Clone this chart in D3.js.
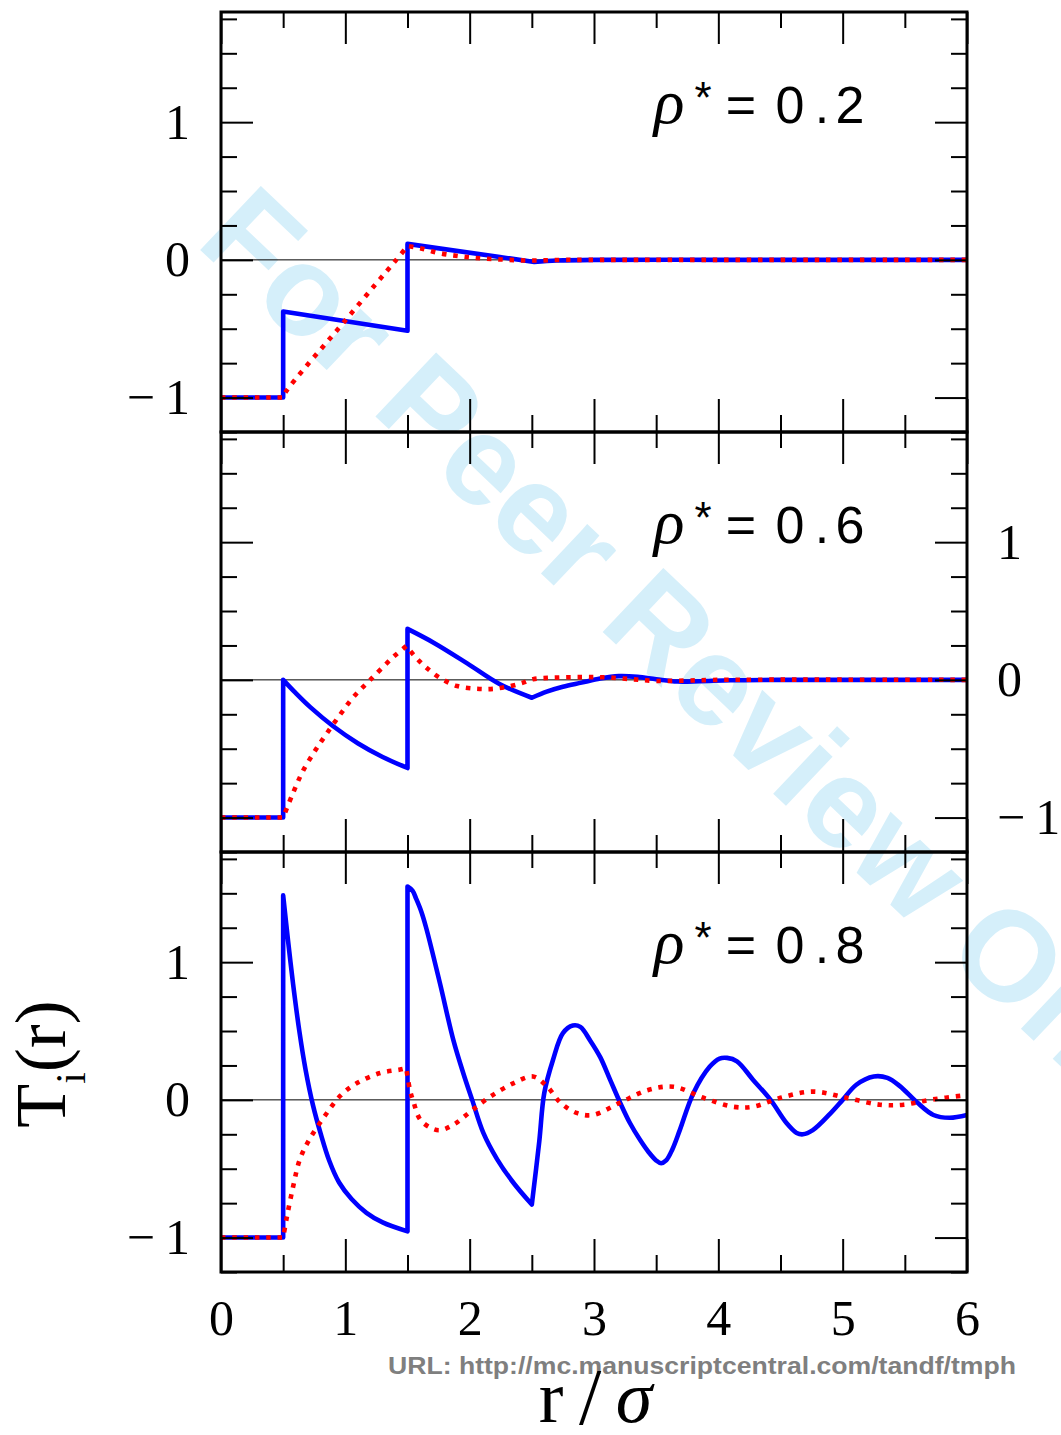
<!DOCTYPE html>
<html>
<head>
<meta charset="utf-8">
<script src="https://cdn.jsdelivr.net/npm/d3@7"></script>
<style>
    html, body { margin: 0; padding: 0; background: #fff; }
    svg { display: block; }
</style>
</head>
<body>
<svg id="chart" width="1061" height="1435"></svg>
<script>
// values: r/sigma, T_i(r)
var densityLabels = ["0.2", "0.6", "0.8"];
var xMajorTicks = [0, 1, 2, 3, 4, 5, 6];
var xMinorTicks = [0.5, 1.5, 2.5, 3.5, 4.5, 5.5];
var yMajorTicks = [-1, 0, 1];
var yMinorTicks = [-1.25, -0.75, -0.5, -0.25, 0.25, 0.5, 0.75, 1.25, 1.5, 1.75];

// a repeated r starts a new piece (jump or kink)
var solid02 = [[0, -1], [0.5, -1], [0.5, -0.375], [1.5, -0.515], [1.5, 0.116], [2.52, -0.015],
    [2.52, -0.015], [2.7, -0.005], [3, 0], [4, 0], [5, 0], [6, 0]];
var dotted02 = [[0, -1], [0.5, -1], [0.5, -1], [0.52, -0.96], [1.0, -0.44], [1.25, -0.17], [1.4, -0.01],
    [1.5, 0.1], [1.5, 0.1], [1.6, 0.085], [1.75, 0.05], [2.0, 0.018], [2.25, 0.003], [2.5, -0.005],
    [2.75, 0], [3, 0], [6, 0]];

var solid06 = [[0, -1], [0.5, -1], [0.5, 0], [0.6, -0.095], [0.72, -0.2], [0.9, -0.335], [1.1, -0.46],
    [1.3, -0.56], [1.5, -0.64], [1.5, 0.37], [1.71, 0.27], [1.98, 0.12], [2.24, -0.03], [2.5, -0.13],
    [2.5, -0.13], [2.62, -0.085], [2.75, -0.05], [2.9, -0.02], [3.05, 0.01], [3.2, 0.027], [3.35, 0.022],
    [3.5, 0.005], [3.67, -0.012], [3.85, -0.01], [4.1, -0.003], [4.5, 0], [5, 0], [6, 0]];
var dotted06 = [[0, -1], [0.5, -1], [0.5, -1], [0.58, -0.82], [0.66, -0.66], [0.76, -0.51], [0.85, -0.39],
    [0.96, -0.25], [1.06, -0.13], [1.2, 0.0], [1.39, 0.17], [1.49, 0.245], [1.49, 0.245], [1.57, 0.16],
    [1.65, 0.09], [1.76, 0.015], [1.9, -0.045], [2.06, -0.065], [2.19, -0.065], [2.33, -0.045],
    [2.43, -0.02], [2.51, 0.005], [2.65, 0.015], [2.91, 0.02], [3.1, 0.018], [3.3, 0.005], [3.5, -0.008],
    [3.75, -0.005], [4.0, 0], [6, 0]];

var solid08 = [[0, -1], [0.5, -1], [0.5, 1.485], [0.54, 1.15], [0.58, 0.84], [0.63, 0.5], [0.68, 0.22],
    [0.74, -0.04], [0.8, -0.24], [0.87, -0.44], [0.95, -0.6], [1.05, -0.72], [1.17, -0.82], [1.3, -0.89],
    [1.5, -0.955], [1.5, 1.55], [1.54, 1.52], [1.57, 1.46], [1.61, 1.37], [1.65, 1.25],
    [1.76, 0.85], [1.87, 0.43], [1.95, 0.19], [2.02, 0.0], [2.11, -0.24], [2.22, -0.43], [2.35, -0.6],
    [2.5, -0.76], [2.5, -0.76], [2.56, -0.3], [2.6, 0.05], [2.67, 0.29], [2.75, 0.485], [2.83, 0.54],
    [2.89, 0.53], [2.97, 0.43], [3.05, 0.31], [3.13, 0.145], [3.21, -0.02], [3.29, -0.17], [3.37, -0.29],
    [3.44, -0.38], [3.5, -0.44], [3.54, -0.46], [3.58, -0.44], [3.63, -0.36], [3.69, -0.22], [3.8, 0.05],
    [3.93, 0.24], [4.01, 0.3], [4.07, 0.305], [4.15, 0.28], [4.28, 0.145], [4.42, 0.0], [4.55, -0.17],
    [4.63, -0.24], [4.68, -0.25], [4.76, -0.22], [4.9, -0.1], [5.0, 0.0], [5.11, 0.11], [5.25, 0.17],
    [5.36, 0.16], [5.46, 0.1], [5.6, -0.02], [5.73, -0.11], [5.86, -0.13], [6.0, -0.11]];
var dotted08 = [[0, -1], [0.5, -1], [0.5, -1], [0.53, -0.85], [0.58, -0.63], [0.635, -0.43], [0.716, -0.28],
    [0.84, -0.11], [0.96, 0.03], [1.09, 0.12], [1.28, 0.195], [1.44, 0.22], [1.49, 0.23], [1.49, 0.23],
    [1.52, 0.07], [1.55, -0.02], [1.6, -0.14], [1.68, -0.2], [1.76, -0.22], [1.87, -0.18], [2.0, -0.09],
    [2.16, 0.02], [2.35, 0.12], [2.51, 0.17], [2.62, 0.1], [2.73, -0.02], [2.86, -0.095], [2.99, -0.11],
    [3.21, -0.02], [3.43, 0.07], [3.64, 0.095], [3.88, 0.015], [4.12, -0.05], [4.28, -0.05], [4.5, 0.015],
    [4.76, 0.06], [5.03, 0.015], [5.3, -0.035], [5.49, -0.035], [5.7, 0.0], [6.0, 0.035]];

var panelSeries = [
    { solid: solid02, dotted: dotted02 },
    { solid: solid06, dotted: dotted06 },
    { solid: solid08, dotted: dotted08 }
];

window.onload = function () {
    var figure = new DensityPlots.Figure(d3.select("#chart"));
};

var DensityPlots;
(function (DensityPlots) {
    var Figure = (function () {
        function Figure(svg) {
            this.svg = svg;
            this.x = d3.scaleLinear().domain([0, 6]).range([Figure.left, Figure.right]);
            this.drawWatermark();
            for (var i = 0; i < panelSeries.length; i++) {
                this.drawPanel(i);
            }
            this.drawAxisTitles();
        }

        Figure.prototype.drawWatermark = function () {
            this.svg.append("text")
                .attr("transform", "translate(194,244) rotate(43.5)")
                .attr("font-family", "Liberation Sans, Arial, sans-serif")
                .attr("font-weight", "bold")
                .attr("font-size", 128)
                .attr("fill", "#d5effa")
                .text("For Peer Review Only");
        };

        // one path through all pieces, pieces joined by straight segments
        Figure.prototype.curvePath = function (points, y) {
            var _this = this;
            var pieces = [[points[0]]];
            for (var i = 1; i < points.length; i++) {
                if (points[i][0] === points[i - 1][0]) {
                    pieces.push([points[i]]);
                } else {
                    pieces[pieces.length - 1].push(points[i]);
                }
            }
            var path = d3.path();
            var started = false;
            var context = {
                moveTo: function (px, py) {
                    if (started) {
                        path.lineTo(px, py);
                    } else {
                        path.moveTo(px, py);
                        started = true;
                    }
                },
                lineTo: function (px, py) { path.lineTo(px, py); },
                bezierCurveTo: function (a, b, c, d, e, f) { path.bezierCurveTo(a, b, c, d, e, f); },
                closePath: function () {}
            };
            var line = d3.line()
                .x(function (d) { return _this.x(d[0]); })
                .y(function (d) { return y(d[1]); })
                .curve(d3.curveCatmullRom.alpha(0.5))
                .context(context);
            pieces.forEach(function (piece) {
                if (piece.length > 1) line(piece);
            });
            return path.toString();
        };

        Figure.tickLabel = function (d) {
            return d < 0 ? "\u2212\u2009" + (-d) : String(d);
        };

        Figure.prototype.addAxis = function (axis, transform, values, size, labels, padding) {
            var g = this.svg.append("g")
                .attr("transform", transform)
                .call(axis.tickValues(values).tickSize(size).tickPadding(padding || 0)
                    .tickFormat(labels ? Figure.tickLabel : function () { return ""; }));
            g.select(".domain").remove();
            g.selectAll(".tick line").attr("stroke", "#000").attr("stroke-width", 2);
            g.selectAll(".tick text")
                .attr("font-family", "Liberation Serif, serif")
                .attr("font-size", 50)
                .attr("fill", "#000");
            return g;
        };

        Figure.prototype.drawPanel = function (index) {
            var top = Figure.top + index * Figure.panelHeight;
            var bottom = top + Figure.panelHeight;
            var y = d3.scaleLinear().domain([-1.25, 1.8]).range([bottom, top]);
            var series = panelSeries[index];
            var labelsLeft = index !== 1;
            var labelsRight = index === 1;
            var labelsBottom = index === panelSeries.length - 1;

            this.svg.append("line")
                .attr("x1", this.x(0)).attr("x2", this.x(6))
                .attr("y1", y(0)).attr("y2", y(0))
                .attr("stroke", "#000").attr("stroke-width", 1);

            this.svg.append("path")
                .attr("d", this.curvePath(series.solid, y))
                .attr("fill", "none")
                .attr("stroke", "#0000ff")
                .attr("stroke-width", 4.6)
                .attr("stroke-linejoin", "round");

            this.svg.append("path")
                .attr("d", this.curvePath(series.dotted, y))
                .attr("fill", "none")
                .attr("stroke", "#ff0000")
                .attr("stroke-width", 4.6)
                .attr("stroke-dasharray", "4.5,6.8");

            var L = Figure.left, R = Figure.right;
            this.addAxis(d3.axisLeft(y), "translate(" + L + ",0)", yMajorTicks, -32, labelsLeft, 31);
            this.addAxis(d3.axisLeft(y), "translate(" + L + ",0)", yMinorTicks, -16, false);
            this.addAxis(d3.axisRight(y), "translate(" + R + ",0)", yMajorTicks, -32, labelsRight, 30);
            this.addAxis(d3.axisRight(y), "translate(" + R + ",0)", yMinorTicks, -16, false);
            this.addAxis(d3.axisTop(this.x), "translate(0," + top + ")", xMajorTicks, -32, false);
            this.addAxis(d3.axisTop(this.x), "translate(0," + top + ")", xMinorTicks, -16, false);
            this.addAxis(d3.axisBottom(this.x), "translate(0," + bottom + ")", xMajorTicks, -33, labelsBottom, 27);
            this.addAxis(d3.axisBottom(this.x), "translate(0," + bottom + ")", xMinorTicks, -17, false);

            this.svg.append("rect")
                .attr("x", L).attr("y", top)
                .attr("width", R - L).attr("height", Figure.panelHeight)
                .attr("fill", "none").attr("stroke", "#000").attr("stroke-width", 3);

            // rho*=0.x, each glyph centred where it sits in the figure
            var base = top + 111;
            var label = this.svg.append("text")
                .attr("text-anchor", "middle")
                .attr("fill", "#000");
            label.append("tspan")
                .attr("x", 669).attr("y", base)
                .attr("font-family", "Liberation Serif, serif")
                .attr("font-style", "italic")
                .attr("font-size", 64)
                .text("ρ");
            label.append("tspan")
                .attr("x", 703).attr("y", base - 10)
                .attr("font-family", "Liberation Sans, sans-serif")
                .attr("font-size", 44)
                .text("*");
            var chars = ("=" + densityLabels[index]).split("");
            var centres = [741, 790, 822, 850];
            chars.forEach(function (c, k) {
                label.append("tspan")
                    .attr("x", centres[k]).attr("y", base)
                    .attr("font-family", "Liberation Sans, sans-serif")
                    .attr("font-size", 52)
                    .text(c);
            });
        };

        Figure.prototype.drawAxisTitles = function () {
            var serif = "Liberation Serif, serif";

            this.svg.append("text")
                .attr("x", 388)
                .attr("y", 1374)
                .attr("textLength", 628)
                .attr("lengthAdjust", "spacingAndGlyphs")
                .attr("font-family", "Liberation Sans, Arial, sans-serif")
                .attr("font-weight", "bold")
                .attr("font-size", 24)
                .attr("fill", "#7f7f7f")
                .text("URL: http://mc.manuscriptcentral.com/tandf/tmph");

            var xTitle = this.svg.append("text")
                .attr("text-anchor", "middle")
                .attr("font-family", serif)
                .attr("font-size", 74)
                .attr("fill", "#000");
            xTitle.append("tspan").attr("x", 551).attr("y", 1422).text("r");
            xTitle.append("tspan").attr("x", 590).attr("y", 1424).attr("font-size", 80).text("/");
            xTitle.append("tspan").attr("x", 634).attr("y", 1422).attr("font-style", "italic").text("σ");

            var yTitle = this.svg.append("text")
                .attr("transform", "translate(65,1064) rotate(-90)")
                .attr("text-anchor", "middle")
                .attr("font-family", serif)
                .attr("font-size", 72)
                .attr("fill", "#000");
            yTitle.append("tspan").text("T");
            yTitle.append("tspan").attr("font-size", 42).attr("dy", 20).text("i");
            yTitle.append("tspan").attr("dy", -20).text("(r)");
        };

        Figure.left = 221;
        Figure.right = 967;
        Figure.top = 12;
        Figure.panelHeight = 420;
        return Figure;
    })();
    DensityPlots.Figure = Figure;
})(DensityPlots || (DensityPlots = {}));
</script>
</body>
</html>
